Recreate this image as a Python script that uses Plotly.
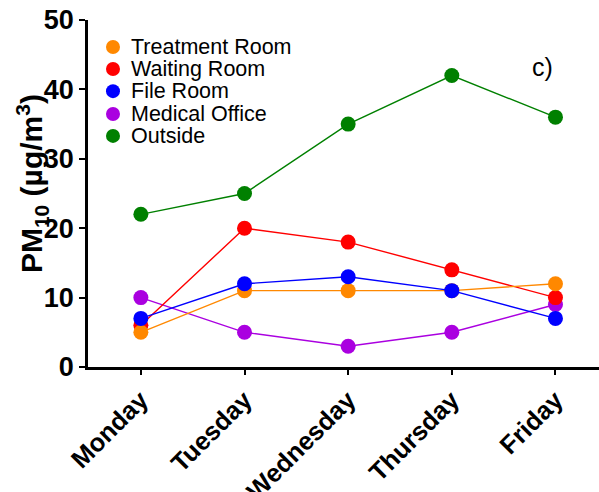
import plotly.graph_objects as go

days = ["Monday", "Tuesday", "Wednesday", "Thursday", "Friday"]
treatment_room = [5, 11, 11, 11, 12]
waiting_room = [6, 20, 18, 14, 10]
file_room = [7, 12, 13, 11, 7]
medical_office = [10, 5, 3, 5, 9]
outside = [22, 25, 35, 42, 36]
y_ticks = [0, 10, 20, 30, 40, 50]

series = [
    ("Treatment Room", treatment_room, "#FF8800"),
    ("Waiting Room", waiting_room, "#FF0000"),
    ("File Room", file_room, "#0000FF"),
    ("Medical Office", medical_office, "#AA00E0"),
    ("Outside", outside, "#008000"),
]
draw_order = [3, 1, 0, 2, 4]

FONT = "Liberation Sans, Arial, sans-serif"
fig = go.Figure()
xi = list(range(len(days)))
for i in draw_order:
    name, vals, col = series[i]
    fig.add_trace(go.Scatter(x=xi, y=vals, mode="lines+markers", name=name,
                             line=dict(color=col, width=1.4),
                             marker=dict(color=col, size=15),
                             showlegend=False))

# legend built from shapes + annotations (tighter spacing than plotly legend)
leg_y = [0.922, 0.859, 0.795, 0.729, 0.666]
for (name, vals, col), ly in zip(series, leg_y):
    fig.add_shape(type="circle", xref="paper", yref="paper",
                  xsizemode="pixel", ysizemode="pixel",
                  xanchor=0.0489, yanchor=ly, x0=-7, x1=7, y0=-7, y1=7,
                  fillcolor=col, line=dict(width=0))
    fig.add_annotation(text=name, x=0.080, y=ly, xref="paper", yref="paper",
                       showarrow=False, xanchor="left", yanchor="middle",
                       font=dict(family=FONT, size=21.5, color="black"))

fig.add_annotation(text="c)", x=0.89, y=0.865, xref="paper", yref="paper",
                   showarrow=False, font=dict(family=FONT, size=25, color="black"),
                   xanchor="center", yanchor="middle")

fig.add_annotation(text="<b>PM<sub>10</sub> (µg/m<sup>3</sup>)</b>",
                   x=-0.1096, y=0.53, xref="paper", yref="paper", textangle=-90,
                   showarrow=False, xanchor="center", yanchor="middle",
                   font=dict(family=FONT, size=30, color="black"))

fig.update_layout(
    width=599, height=492,
    margin=dict(l=88, r=0, t=20, b=125),
    plot_bgcolor="white", paper_bgcolor="white",
    font=dict(family=FONT, color="black"),
    showlegend=False,
    xaxis=dict(range=[-0.51, 4.42], tickmode="array", tickvals=xi, ticktext=days,
               tickangle=-45, showline=True, linecolor="black", linewidth=2.5,
               ticks="outside", ticklen=5, tickwidth=2, tickcolor="black",
               showgrid=False, zeroline=False, automargin=False,
               tickfont=dict(family=FONT, size=25.5, color="black", weight="bold")),
    yaxis=dict(range=[0, 50], tickvals=y_ticks, showline=True, linecolor="black",
               linewidth=2.5, ticks="outside", ticklen=6, tickwidth=2,
               tickcolor="black", showgrid=False, zeroline=False, automargin=False,
               tickfont=dict(family=FONT, size=27, color="black", weight="bold")),
)
fig.write_html("out.html", config={"displayModeBar": False},
               post_script="document.body.style.margin='0';")
